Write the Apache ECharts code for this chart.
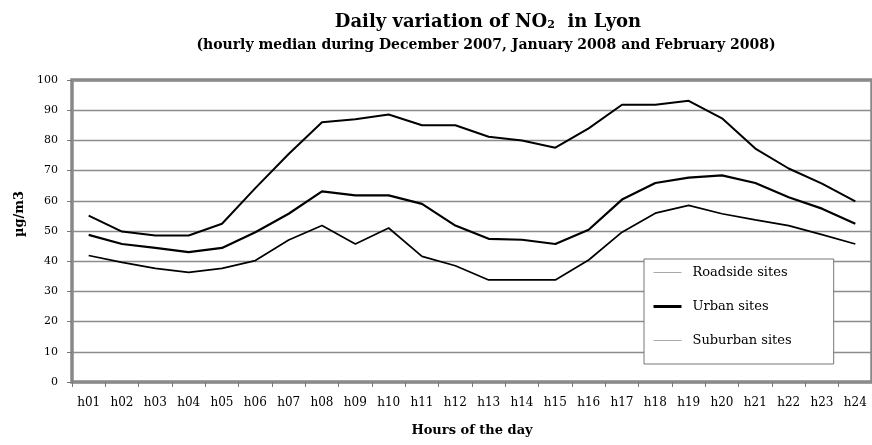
<!DOCTYPE html>
<html>
<head>
<meta charset="utf-8">
<script src="https://cdn.jsdelivr.net/npm/echarts@6/dist/echarts.min.js"></script>
<style>
html,body{margin:0;padding:0;background:#fff;}
#c{width:872px;height:445px;}
</style>
</head>
<body>
<div id="c"></div>
<script>
const hours = ['h01','h02','h03','h04','h05','h06','h07','h08','h09','h10','h11','h12','h13','h14','h15','h16','h17','h18','h19','h20','h21','h22','h23','h24'];
const roadside = [55.1, 49.8, 48.5, 48.5, 52.4, 64.2, 75.5, 86.0, 87.0, 88.6, 85.0, 85.0, 81.2, 80.0, 77.6, 84.0, 91.8, 91.8, 93.1, 87.3, 77.3, 70.7, 65.7, 59.8];
const urban = [48.7, 45.7, 44.4, 43.0, 44.4, 49.6, 55.7, 63.1, 61.8, 61.8, 59.0, 51.8, 47.4, 47.1, 45.7, 50.4, 60.4, 65.9, 67.7, 68.4, 65.9, 61.2, 57.4, 52.4];
const suburban = [41.9, 39.6, 37.6, 36.3, 37.6, 40.2, 47.0, 51.8, 45.7, 51.0, 41.6, 38.5, 33.8, 33.8, 33.8, 40.4, 49.6, 55.9, 58.5, 55.7, 53.7, 51.8, 48.8, 45.7];
const seriesNames = ['Roadside sites', 'Urban sites', 'Suburban sites'];

const chart = echarts.init(document.getElementById('c'), null, {renderer: 'canvas'});
const serif = 'DejaVu Serif';
chart.setOption({
  animation: false,
  backgroundColor: '#fff',
  title: [
    {
      text: '{a|Daily variation of NO}{s|2}{a|  in Lyon}',
      left: 483, top: 8, textAlign: 'center',
      textStyle: {
        rich: {
          a: {fontFamily: serif, fontWeight: 'bold', fontSize: 18, color: '#000'},
          s: {fontFamily: serif, fontWeight: 'bold', fontSize: 11, color: '#000', padding: [7, 0, 0, 0]}
        }
      }
    },
    {
      text: '(hourly median during December 2007, January 2008 and February 2008)',
      left: 481, top: 33, textAlign: 'center',
      textStyle: {fontFamily: serif, fontWeight: 'bold', fontSize: 14, color: '#000'}
    }
  ],
  grid: {
    left: 72, right: 0, top: 80, bottom: 63,
    show: true, borderColor: '#888', borderWidth: 3.5, backgroundColor: 'transparent'
  },
  legend: {
    orient: 'vertical',
    left: 644, top: 259,
    padding: [7, 42, 17, 8],
    itemGap: 21,
    itemWidth: 28, itemHeight: 14,
    backgroundColor: '#fff',
    borderColor: '#777', borderWidth: 1,
    textStyle: {fontFamily: serif, fontSize: 13, color: '#000', padding: [0, 0, 0, 6]},
    data: [
      {name: seriesNames[0], itemStyle: {opacity: 0}, lineStyle: {color: '#aaa', width: 1}},
      {name: seriesNames[1], itemStyle: {opacity: 0}, lineStyle: {color: '#000', width: 3}},
      {name: seriesNames[2], itemStyle: {opacity: 0}, lineStyle: {color: '#aaa', width: 1}}
    ]
  },
  xAxis: {
    type: 'category',
    data: hours,
    boundaryGap: true,
    name: 'Hours of the day',
    nameLocation: 'middle',
    nameGap: 42,
    nameTextStyle: {fontFamily: serif, fontWeight: 'bold', fontSize: 13, color: '#000'},
    axisLine: {show: false},
    axisTick: {show: true, length: 5, lineStyle: {color: '#777', width: 1}},
    axisLabel: {fontFamily: serif, fontSize: 12, color: '#000', margin: 15, interval: 0}
  },
  yAxis: {
    type: 'value',
    min: 0, max: 100, interval: 10,
    name: 'µg/m3',
    nameLocation: 'middle',
    nameRotate: 90,
    nameGap: 46,
    nameTextStyle: {fontFamily: serif, fontWeight: 'bold', fontSize: 13, color: '#000', padding: [0, 0, 0, 34]},
    axisLine: {show: false},
    axisTick: {show: true, length: 5, lineStyle: {color: '#777', width: 1}},
    axisLabel: {fontFamily: serif, fontSize: 11, color: '#000', margin: 14},
    splitLine: {show: true, lineStyle: {color: '#8c8c8c', width: 1.3}}
  },
  series: [
    {name: seriesNames[0], type: 'line', data: roadside, symbol: 'none', lineStyle: {color: '#000', width: 2}, itemStyle: {color: '#000'}, z: 3},
    {name: seriesNames[1], type: 'line', data: urban, symbol: 'none', lineStyle: {color: '#000', width: 2.2}, itemStyle: {color: '#000'}, z: 3},
    {name: seriesNames[2], type: 'line', data: suburban, symbol: 'none', lineStyle: {color: '#000', width: 1.7}, itemStyle: {color: '#000'}, z: 3}
  ]
});
</script>
</body>
</html>
